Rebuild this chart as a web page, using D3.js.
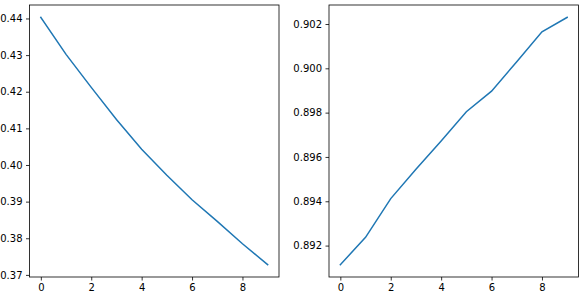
<!DOCTYPE html>
<html>
<head>
<meta charset="utf-8">
<script src="https://cdn.jsdelivr.net/npm/d3@7"></script>
<style>
  body { margin: 0; background: #fff; }
  svg { display: block; }
  .tick text { font-family: "DejaVu Sans", sans-serif; font-size: 10px; fill: #000; }
</style>
</head>
<body>
<div id="chart"></div>
<script>
// epochs on the x axis
const epochs = [0, 1, 2, 3, 4, 5, 6, 7, 8, 9];
// left panel (falling curve)
const lossValues = [0.4403, 0.4302, 0.4212, 0.4124, 0.4043, 0.3972, 0.3905, 0.3846, 0.3785, 0.3728];
// right panel (rising curve)
const accValues = [0.89114, 0.89237, 0.89412, 0.89544, 0.89672, 0.89804, 0.89897, 0.90030, 0.90165, 0.90230];
const xTicks = [0, 2, 4, 6, 8];
const lossTicks = [0.37, 0.38, 0.39, 0.40, 0.41, 0.42, 0.43, 0.44];
const accTicks = [0.892, 0.894, 0.896, 0.898, 0.900, 0.902];

const W = 582, H = 296;
const svg = d3.select('#chart').append('svg')
    .attr('width', W)
    .attr('height', H);

function panel(x0, x1, values, yTicks, fmt) {
    const top = 5, bottom = 277;
    const x = d3.scaleLinear().domain([-0.45, 9.45]).range([x0, x1]);
    const lo = d3.min(values), hi = d3.max(values);
    const pad = (hi - lo) * 0.05;
    const y = d3.scaleLinear().domain([lo - pad, hi + pad]).range([bottom, top]);

    const g = svg.append('g');

    g.append('g')
        .attr('transform', `translate(0,${bottom})`)
        .call(d3.axisBottom(x).tickValues(xTicks).tickSize(3.5).tickPadding(3.5).tickFormat(d3.format('d')))
        .call(a => a.select('.domain').remove());

    g.append('g')
        .attr('transform', `translate(${x0},0)`)
        .call(d3.axisLeft(y).tickValues(yTicks).tickSize(3.5).tickPadding(3.5).tickFormat(d3.format(fmt)))
        .call(a => a.select('.domain').remove());

    g.selectAll('.tick line').attr('stroke', '#000').attr('stroke-width', 0.8);

    const line = d3.line()
        .x((d, i) => x(epochs[i]))
        .y(d => y(d));

    g.append('path')
        .datum(values)
        .attr('d', line)
        .attr('fill', 'none')
        .attr('stroke', '#1f77b4')
        .attr('stroke-width', 1.5)
        .attr('stroke-linecap', 'square');

    g.append('rect')
        .attr('x', x0)
        .attr('y', top)
        .attr('width', x1 - x0)
        .attr('height', bottom - top)
        .attr('fill', 'none')
        .attr('stroke', '#000')
        .attr('stroke-width', 0.8);
}

panel(29.5, 279, lossValues, lossTicks, '.2f');
panel(329, 578.5, accValues, accTicks, '.3f');
</script>
</body>
</html>
